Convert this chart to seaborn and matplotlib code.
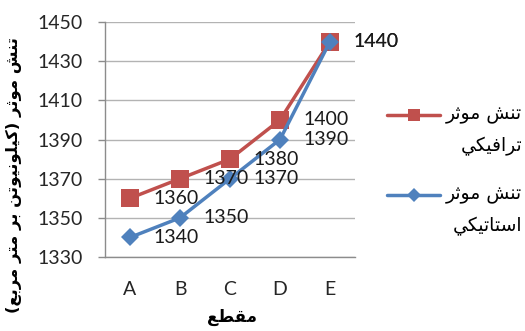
import matplotlib
matplotlib.use("Agg")
import matplotlib.pyplot as plt
from matplotlib.lines import Line2D
import pandas as pd
import seaborn as sns

# ---- data -------------------------------------------------------------
sections = ["A", "B", "C", "D", "E"]
traffic_stress = [1360, 1370, 1380, 1400, 1440]
static_stress = [1340, 1350, 1370, 1390, 1440]
yticks = [1330, 1350, 1370, 1390, 1410, 1430, 1450]

label_traffic = ["تنش موثر", "ترافیکي"]
label_static = ["تنش موثر", "استاتیکي"]
y_title = "تنش موثر (کیلونیوتن بر متر مربع)"
x_title = "مقطع"

RED = "#C0504D"
BLUE = "#4F81BD"

# ---- minimal Arabic-script shaping (contextual forms + RTL order) ------
FORMS = {
    "ا": ("\uFE8D", "\uFE8E", None, None),
    "ب": ("\uFE8F", "\uFE90", "\uFE91", "\uFE92"),
    "ت": ("\uFE95", "\uFE96", "\uFE97", "\uFE98"),
    "ث": ("\uFE99", "\uFE9A", "\uFE9B", "\uFE9C"),
    "ر": ("\uFEAD", "\uFEAE", None, None),
    "س": ("\uFEB1", "\uFEB2", "\uFEB3", "\uFEB4"),
    "ش": ("\uFEB5", "\uFEB6", "\uFEB7", "\uFEB8"),
    "ط": ("\uFEC1", "\uFEC2", "\uFEC3", "\uFEC4"),
    "ع": ("\uFEC9", "\uFECA", "\uFECB", "\uFECC"),
    "ف": ("\uFED1", "\uFED2", "\uFED3", "\uFED4"),
    "ق": ("\uFED5", "\uFED6", "\uFED7", "\uFED8"),
    "ل": ("\uFEDD", "\uFEDE", "\uFEDF", "\uFEE0"),
    "م": ("\uFEE1", "\uFEE2", "\uFEE3", "\uFEE4"),
    "ن": ("\uFEE5", "\uFEE6", "\uFEE7", "\uFEE8"),
    "و": ("\uFEED", "\uFEEE", None, None),
    "ي": ("\uFEF1", "\uFEF2", "\uFEF3", "\uFEF4"),
    "ک": ("\uFB8E", "\uFB8F", "\uFB90", "\uFB91"),
    "ی": ("\uFBFC", "\uFBFD", "\uFBFE", "\uFBFF"),
}


def shape(text):
    out = []
    for i, ch in enumerate(text):
        if ch not in FORMS:
            out.append(ch)
            continue
        prev = text[i - 1] if i > 0 else ""
        nxt = text[i + 1] if i + 1 < len(text) else ""
        join_prev = prev in FORMS and FORMS[prev][2] is not None
        join_next = FORMS[ch][2] is not None and nxt in FORMS
        iso, fin, ini, med = FORMS[ch]
        if join_prev and join_next:
            out.append(med)
        elif join_prev:
            out.append(fin)
        elif join_next:
            out.append(ini)
        else:
            out.append(iso)
    swap = {"(": ")", ")": "("}
    return "".join(swap.get(c, c) for c in reversed(out))


# ---- style ------------------------------------------------------------
sns.set_style("white")
plt.rcParams["font.family"] = ["Lato", "DejaVu Sans"]
AR = "DejaVu Sans"

fig = plt.figure(figsize=(5.25, 3.31), dpi=100)
W, H = 525, 331
ax = fig.add_axes([105 / W, 1 - 257 / H, 250 / W, 235 / H])

df = pd.DataFrame({
    "section": sections * 2,
    "stress": traffic_stress + static_stress,
    "series": ["traffic"] * len(sections) + ["static"] * len(sections),
})

sns.lineplot(data=df[df.series == "traffic"], x="section", y="stress", ax=ax,
             color=RED, linewidth=2.5, marker="s", markersize=13,
             markeredgewidth=0, sort=False, zorder=3)
sns.lineplot(data=df[df.series == "static"], x="section", y="stress", ax=ax,
             color=BLUE, linewidth=2.5, marker="D", markersize=9.5,
             markeredgewidth=0, sort=False, zorder=4)

# value labels to the right of each point
for vals in (traffic_stress, static_stress):
    for i, v in enumerate(vals):
        ax.annotate(f"{v}", xy=(i, v), xytext=(17, 0), textcoords="offset points",
                    ha="left", va="center", fontsize=14, color="#1a1a1a", zorder=5)

ax.set_xlim(-0.5, len(sections) - 0.5)
ax.set_ylim(yticks[0], yticks[-1])
ax.set_yticks(yticks)
ax.grid(axis="y", color="#B3B3B3", linewidth=1)
ax.grid(axis="x", visible=False)
for side in ("top", "right"):
    ax.spines[side].set_visible(False)
for side in ("left", "bottom"):
    ax.spines[side].set_color("#8C8C8C")
    ax.spines[side].set_linewidth(1)

ax.tick_params(axis="y", length=5, width=1, color="#8C8C8C", pad=11, labelsize=14,
               labelcolor="#262626", left=True)
ax.tick_params(axis="x", length=0, pad=17, labelsize=14, labelcolor="#262626")

ax.set_ylabel(shape(y_title), family=AR, fontweight="bold", fontsize=11.8, color="#000000")
ax.yaxis.set_label_coords(-0.33, 0.35)
ax.set_xlabel(shape(x_title), family=AR, fontweight="bold", fontsize=12, color="#000000")
ax.xaxis.set_label_coords(0.508, -0.215)

# legend: line/marker keys and right-aligned two-line labels
def px(x, y):
    return x / W, 1 - y / H

for color, marker, ms, y_key, lines in (
    (RED, "s", 9, 115, label_traffic),
    (BLUE, "D", 7, 195, label_static),
):
    (x0, yk), (x1, _) = px(387, y_key), px(440, y_key)
    fig.add_artist(Line2D([x0, x1], [yk, yk], transform=fig.transFigure, color=color,
                          linewidth=2.5))
    xm, _ = px(413.5, y_key)
    fig.add_artist(Line2D([xm], [yk], transform=fig.transFigure, color=color,
                          marker=marker, markersize=ms, markeredgewidth=0))
    for k, line in enumerate(lines):
        tx, ty = px(522, y_key + k * 31)
        fig.text(tx, ty, shape(line), family=AR, fontsize=13.5, ha="right", va="center",
                 color="#000000")

fig.savefig("out.png", dpi=100)
